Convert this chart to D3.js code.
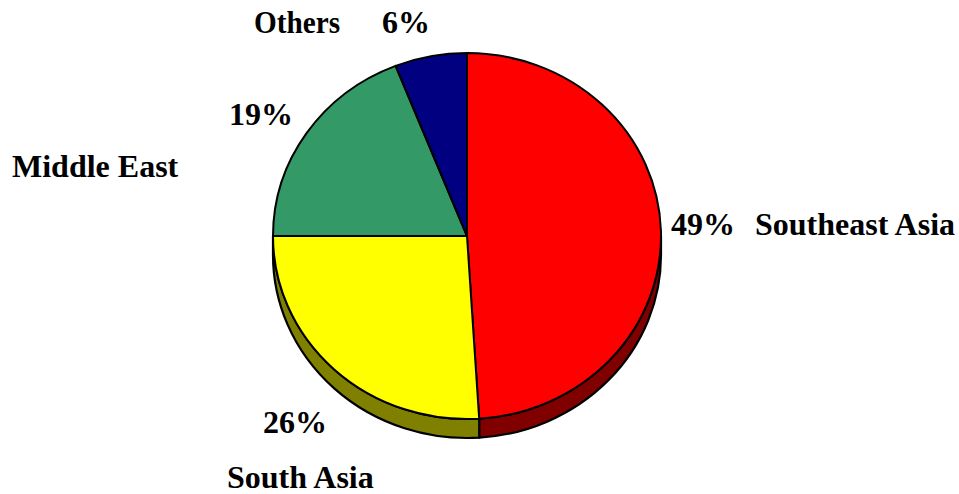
<!DOCTYPE html>
<html>
<head>
<meta charset="utf-8">
<script src="https://cdn.jsdelivr.net/npm/d3@7"></script>
<style>
  body { margin: 0; background: #fff; }
  svg { display: block; }
</style>
</head>
<body>
<div id="chart"></div>
<script>
// data
var regions = ["Southeast Asia", "South Asia", "Middle East", "Others"];
var shares = [49, 26, 19, 6];
var topColors = ["#FF0000", "#FFFF00", "#339966", "#000080"];
var sideColors = ["#800000", "#808000", "#1a4d33", "#000040"];

// label layout (name + percent), start x / baseline y; Others is set a bit narrower
var nameAt = [[755, 235], [227, 488], [12, 177], [254, 33]];
var nameWidth = [null, null, null, 86];
var pctAt = [[671, 235], [263, 433], [229, 125], [382, 33]];

var width = 959, height = 494;
var cx = 467, cy = 236, rx = 194, ry = 183, depth = 19;

var svg = d3.select("#chart")
  .append("svg")
    .attr("width", width)
    .attr("height", height);

var pie = d3.pie().sort(null).value(function(d) { return d; });
var arcs = pie(shares);

// point on the top ellipse for pie angle a (0 = 12 o'clock, clockwise)
function pt(a, dy) {
  return [cx + rx * Math.sin(a), cy - ry * Math.cos(a) + (dy || 0)];
}

function topPath(d) {
  var p0 = pt(d.startAngle), p1 = pt(d.endAngle);
  var large = (d.endAngle - d.startAngle) > Math.PI ? 1 : 0;
  return "M" + cx + "," + cy + "L" + p0 + "A" + rx + "," + ry + " 0 " + large + " 1 " + p1 + "Z";
}

// side wall only where the rim faces the viewer (90deg .. 270deg)
function sidePath(d) {
  var a0 = Math.max(d.startAngle, Math.PI / 2),
      a1 = Math.min(d.endAngle, 3 * Math.PI / 2);
  if (a1 <= a0) return null;
  var p0 = pt(a0), p1 = pt(a1), q1 = pt(a1, depth), q0 = pt(a0, depth);
  return "M" + p0 + "A" + rx + "," + ry + " 0 0 1 " + p1 +
    "L" + q1 + "A" + rx + "," + ry + " 0 0 0 " + q0 + "Z";
}

svg.append("g")
  .selectAll("path")
  .data(arcs.filter(function(d) { return sidePath(d) !== null; }))
  .enter()
  .append("path")
    .attr("d", sidePath)
    .attr("fill", function(d) { return sideColors[d.index]; })
    .attr("stroke", "#000")
    .attr("stroke-width", 2.2)
    .attr("stroke-linejoin", "round");

svg.append("g")
  .selectAll("path")
  .data(arcs)
  .enter()
  .append("path")
    .attr("d", topPath)
    .attr("fill", function(d) { return topColors[d.index]; })
    .attr("stroke", "#000")
    .attr("stroke-width", 2)
    .attr("stroke-linejoin", "round");

var labels = svg.append("g")
  .style("font-family", "'Liberation Serif', 'Times New Roman', serif")
  .style("font-weight", "bold")
  .style("font-size", "32px")
  .attr("fill", "#000");

labels.selectAll("text.name")
  .data(regions)
  .enter()
  .append("text")
    .attr("class", "name")
    .attr("x", function(d, i) { return nameAt[i][0]; })
    .attr("y", function(d, i) { return nameAt[i][1]; })
    .each(function(d, i) {
      if (nameWidth[i]) {
        d3.select(this)
          .attr("textLength", nameWidth[i])
          .attr("lengthAdjust", "spacingAndGlyphs");
      }
    })
    .text(function(d) { return d; });

labels.selectAll("text.pct")
  .data(shares)
  .enter()
  .append("text")
    .attr("class", "pct")
    .attr("x", function(d, i) { return pctAt[i][0]; })
    .attr("y", function(d, i) { return pctAt[i][1]; })
    .text(function(d) { return d + "%"; });
</script>
</body>
</html>
